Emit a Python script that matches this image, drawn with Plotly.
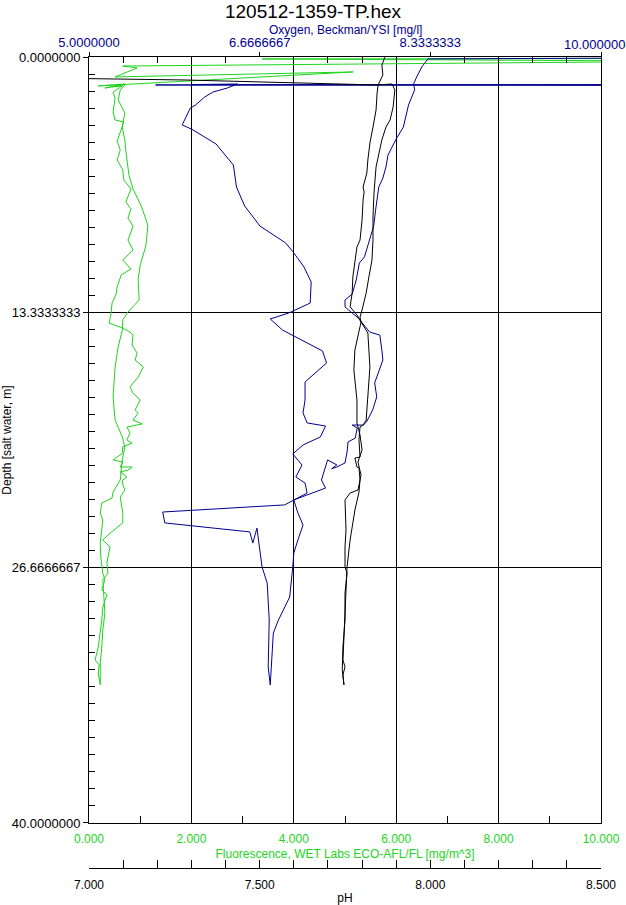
import plotly.graph_objects as go

# colours used by the CTD plot
GREEN = '#1ed41e'
NAVY = '#000090'
FONT = 'Liberation Sans, Arial, sans-serif'

# Fluorescence [mg/m^3] - surface soak, downcast, upcast
fl_surface_value = [11.93, 3.38, 11.93, 0.66, 0.94, 0.51, 5.16, 0.18, 0.70, 0.31, 0.66, 0.45]
fl_surface_depth = [0.08, 0.10, 0.22, 0.47, 0.57, 1.04, 0.78, 1.51, 1.41, 1.62, 1.46, 1.56]

fl_down_value = [0.65, 0.47, 0.51, 0.47, 0.51, 0.68, 0.55, 0.61, 0.55, 0.66, 0.68, 0.82, 0.72, 0.82,
                 0.76, 0.86, 0.76, 0.86, 0.66, 0.82, 0.63, 0.55, 0.53, 0.45, 0.43, 0.39, 0.65, 0.80,
                 0.86, 0.84, 0.94, 0.90, 1.06, 0.96, 0.80, 0.86, 1.00, 0.90, 0.96, 0.86, 1.04, 0.74,
                 0.80, 0.74, 0.84, 0.65, 0.66, 0.47, 0.66, 0.61, 0.84, 0.76, 0.61, 0.74, 0.66, 0.65,
                 0.70, 0.61, 0.66, 0.66, 0.37, 0.27, 0.41, 0.35, 0.37, 0.27, 0.31, 0.27, 0.25, 0.22,
                 0.22]
fl_down_depth = [1.51, 1.83, 2.14, 2.87, 3.29, 3.39, 4.39, 4.86, 5.38, 5.90, 6.42, 6.89, 7.57, 7.94,
                 8.41, 8.83, 9.56, 10.08, 10.60, 11.07, 11.38, 12.01, 12.38, 12.85, 13.42, 13.89, 14.15, 14.36,
                 14.52, 15.04, 15.46, 15.82, 16.19, 16.71, 17.23, 17.55, 17.91, 18.43, 18.59, 18.96, 19.16, 19.32,
                 19.63, 20.00, 20.16, 20.37, 20.68, 21.04, 21.15, 21.41, 21.41, 21.57, 21.67, 21.93, 22.09, 22.25,
                 22.61, 22.98, 23.81, 24.33, 24.96, 25.22, 25.59, 26.42, 26.95, 27.31, 29.03, 29.92, 30.81, 31.64,
                 32.79]

fl_up_value = [0.22, 0.18, 0.20, 0.12, 0.18, 0.22, 0.25, 0.27, 0.35, 0.25, 0.31, 0.27, 0.23, 0.22,
               0.25, 0.27, 0.22, 0.25, 0.45, 0.47, 0.61, 0.65, 0.70, 0.65, 0.51, 0.47, 0.51, 0.57,
               0.65, 0.66, 0.76, 0.98, 0.96, 1.00, 1.11, 1.15, 1.11, 1.02, 0.86, 0.78, 0.72, 0.70,
               0.65, 0.70, 0.57, 0.61, 0.70]
fl_up_depth = [32.79, 32.17, 31.75, 31.49, 30.81, 30.08, 29.40, 28.72, 28.09, 27.83, 27.31, 26.95, 26.11, 25.38,
               24.54, 24.18, 23.81, 23.29, 23.03, 22.72, 22.09, 21.04, 20.37, 19.84, 18.96, 17.75, 16.19, 15.14,
               14.26, 13.73, 13.32, 12.69, 11.64, 10.86, 9.87, 8.83, 8.46, 7.78, 6.89, 6.16, 4.91, 4.33,
               3.66, 2.92, 2.25, 1.72, 1.46]

# Oxygen, Beckman/YSI [mg/l]
ox_surface_value = [12.0, 5.65, 12.0, 6.0, 12.0]
ox_surface_depth = [1.43, 1.46, 1.48, 1.44, 1.45]

ox_down_value = [6.45, 6.35, 6.21, 6.13, 6.04, 5.99, 5.96, 5.91, 6.00, 6.24, 6.41, 6.44, 6.52, 6.67,
                 6.92, 7.00, 7.10, 7.17, 7.16, 6.95, 6.77, 6.89, 7.28, 7.32, 7.11, 7.11, 7.09, 7.13,
                 7.31, 7.26, 7.09, 6.99, 7.08, 7.02, 7.11, 7.13, 6.91, 5.72, 5.74, 6.57, 6.60, 6.64,
                 6.69, 6.74, 6.76, 6.75, 6.77]
ox_down_depth = [1.41, 1.62, 1.83, 2.09, 2.51, 2.66, 3.03, 3.55, 3.76, 4.54, 5.64, 6.79, 7.78, 8.83,
                 9.71, 10.23, 10.97, 11.75, 12.85, 13.37, 13.68, 14.26, 15.35, 15.98, 16.97, 17.91, 18.59, 19.11,
                 19.27, 19.84, 20.26, 20.73, 21.31, 21.93, 22.25, 22.77, 23.39, 23.76, 24.33, 24.80, 25.38, 24.60,
                 26.63, 27.47, 29.40, 31.85, 32.79]

ox_up_value = [6.80, 6.85, 6.91, 6.96, 6.99, 7.00, 7.04, 7.09, 7.04, 7.00, 7.31, 7.27, 7.33, 7.42,
               7.37, 7.42, 7.50, 7.52, 7.53, 7.60, 7.62, 7.57, 7.68, 7.71, 7.77, 7.81, 7.79, 7.82,
               7.87, 7.86, 7.84, 7.74, 7.70, 7.63, 7.57, 7.50, 7.50, 7.57, 7.61, 7.64, 7.69, 7.71,
               7.78, 7.80, 7.83, 7.87, 7.90, 7.92, 8.00, 8.07, 8.12, 8.18, 8.17, 8.20, 8.25, 8.31,
               10.5]
ox_up_depth = [30.08, 29.40, 28.72, 28.20, 26.63, 25.90, 25.22, 24.44, 23.81, 23.13, 22.51, 22.09, 21.04, 21.30,
               21.50, 21.41, 21.20, 20.63, 20.10, 19.90, 19.37, 19.22, 19.22, 19.06, 18.43, 17.75, 17.02, 16.61,
               15.82, 15.30, 14.52, 14.36, 14.10, 13.63, 13.37, 13.05, 12.69, 12.38, 11.64, 10.76, 10.44, 10.08,
               8.83, 7.94, 6.79, 6.32, 5.74, 5.12, 4.28, 3.66, 2.51, 1.72, 1.41, 1.04, 0.52, 0.10,
               0.05]

# pH
ph_down_value = [6.800, 7.281, 7.841, 7.888, 7.896, 7.891, 7.882, 7.870, 7.858, 7.847, 7.841, 7.835,
                 7.832, 7.832, 7.829, 7.820, 7.812, 7.800, 7.794, 7.797, 7.817, 7.823, 7.817, 7.812,
                 7.803, 7.794, 7.791, 7.794, 7.779, 7.785, 7.791, 7.794, 7.791, 7.779, 7.765, 7.759,
                 7.756, 7.753, 7.750, 7.747, 7.744, 7.750, 7.744, 7.747]
ph_down_depth = [1.08, 1.20, 1.46, 1.41, 1.72, 2.61, 3.29, 3.66, 4.33, 5.22, 5.74, 7.10,
                 8.36, 9.56, 10.60, 11.49, 12.32, 13.21, 13.58, 13.84, 14.41, 16.19, 17.91, 18.96,
                 19.22, 19.32, 20.00, 20.89, 20.94, 21.41, 21.46, 22.09, 22.72, 23.66, 25.22, 26.27,
                 26.63, 27.83, 29.40, 30.97, 31.49, 31.85, 32.27, 32.79]

ph_up_value = [7.742, 7.744, 7.750, 7.750, 7.756, 7.750, 7.750, 7.753, 7.750, 7.765, 7.788, 7.797,
               7.788, 7.800, 7.794, 7.785, 7.785, 7.776, 7.779, 7.797, 7.785, 7.765, 7.771, 7.773,
               7.779, 7.785, 7.794, 7.800, 7.803, 7.806, 7.803, 7.814, 7.817, 7.823, 7.832, 7.841,
               7.844, 7.847, 7.861, 7.858, 7.867]
ph_up_depth = [32.00, 30.81, 29.40, 27.99, 26.95, 26.63, 25.59, 24.70, 23.13, 22.77, 22.61, 21.83,
               21.15, 20.52, 19.74, 19.11, 17.91, 16.34, 15.30, 13.84, 13.47, 13.05, 12.32, 11.49,
               10.60, 9.92, 9.56, 8.51, 7.47, 7.05, 6.79, 6.06, 5.38, 4.49, 3.66, 2.77,
               1.88, 1.46, 0.94, 0.42, 0.00]

# axis ticks
depth_ticks = [0, 13.3333333, 26.6666667, 40]
depth_labels = ['0.0000000', '13.3333333', '26.6666667', '40.0000000']
oxygen_ticks = [5, 6.6666667, 8.3333333, 10]
oxygen_labels = ['5.0000000', '6.6666667', '8.3333333', '10.000000']
fluor_ticks = [0, 2, 4, 6, 8, 10]
fluor_labels = ['0.000', '2.000', '4.000', '6.000', '8.000', '10.000']
ph_ticks = [7.0, 7.5, 8.0, 8.5]
ph_labels = ['7.000', '7.500', '8.000', '8.500']

depth_minor = [k * 40 / 45 for k in range(46) if k % 15]
oxygen_minor = [5 + k / 3 for k in range(16) if k % 5]
fluor_minor = [1, 3, 5, 7, 9]
ph_minor = [7 + k / 10 for k in range(16) if k % 5]

fig = go.Figure()

fig.add_trace(go.Scatter(
    x=fl_surface_value + fl_down_value + fl_up_value,
    y=fl_surface_depth + fl_down_depth + fl_up_depth,
    mode='lines', line=dict(color=GREEN, width=1),
    xaxis='x', yaxis='y', name='Fluorescence'
))
fig.add_trace(go.Scatter(
    x=ox_surface_value + ox_down_value + ox_up_value,
    y=ox_surface_depth + ox_down_depth + ox_up_depth,
    mode='lines', line=dict(color=NAVY, width=1),
    xaxis='x2', yaxis='y', name='Oxygen'
))
fig.add_trace(go.Scatter(
    x=ph_down_value + ph_up_value,
    y=ph_down_depth + ph_up_depth,
    mode='lines', line=dict(color='black', width=1),
    xaxis='x3', yaxis='y', name='pH'
))

fig.update_layout(
    width=626,
    height=905,
    margin=dict(l=89, r=25, t=57, b=37, autoexpand=False),
    paper_bgcolor='white',
    plot_bgcolor='white',
    showlegend=False,
    font=dict(family=FONT, size=12, color='black'),
    title=dict(text='120512-1359-TP.hex', x=0.5, xanchor='center', y=0.987, yanchor='middle',
               font=dict(family=FONT, size=19, color='black')),
    xaxis=dict(
        range=[0, 10], domain=[0, 1], anchor='y', side='bottom', automargin=False,
        tickmode='array', tickvals=fluor_ticks, ticktext=fluor_labels,
        tickfont=dict(color=GREEN, size=12), ticks='inside', ticklen=7, tickcolor='black',
        ticklabelstandoff=5,
        minor=dict(tickvals=fluor_minor, ticks='inside', ticklen=7, tickcolor='black', showgrid=False),
        showgrid=True, gridcolor='black', gridwidth=1,
        showline=True, linecolor='black', linewidth=1, zeroline=False,
        title=dict(text='Fluorescence, WET Labs ECO-AFL/FL [mg/m^3]', font=dict(color=GREEN, size=12), standoff=4),
    ),
    xaxis2=dict(
        range=[5, 10], overlaying='x', anchor='y', side='top', automargin=False,
        tickmode='array', tickvals=oxygen_ticks, ticktext=oxygen_labels[:-1] + [''],
        tickfont=dict(color=NAVY, size=13), ticks='outside', ticklen=4, tickcolor='black',
        minor=dict(tickvals=oxygen_minor, ticks='inside', ticklen=6, tickcolor='black', showgrid=False),
        showgrid=False, showline=True, linecolor='black', linewidth=1, zeroline=False,
    ),
    xaxis3=dict(
        range=[7, 8.5], overlaying='x', anchor='free', position=0, side='bottom', automargin=False,
        tickmode='array', tickvals=ph_ticks, ticktext=ph_labels,
        tickfont=dict(color='black', size=12), ticks='inside', ticklen=8, tickcolor='black',
        ticklabelstandoff=6,
        minor=dict(tickvals=ph_minor, ticks='inside', ticklen=8, tickcolor='black', showgrid=False),
        showgrid=False, showline=True, linecolor='black', linewidth=1, zeroline=False,
        title=dict(text='pH', font=dict(color='black', size=12), standoff=2),
    ),
    yaxis=dict(
        range=[40, 0], domain=[0.0555, 1], anchor='x', automargin=False,
        tickmode='array', tickvals=depth_ticks, ticktext=depth_labels,
        tickfont=dict(color='black', size=13), ticks='outside', ticklen=5, tickcolor='black',
        minor=dict(tickvals=depth_minor, ticks='inside', ticklen=6, tickcolor='black', showgrid=False),
        showgrid=True, gridcolor='black', gridwidth=1,
        showline=True, mirror=True, linecolor='black', linewidth=1, zeroline=False,
        title=dict(text='Depth [salt water, m]', font=dict(color='black', size=12), standoff=2),
    ),
    annotations=[
        # oxygen axis title placed by hand, plotly puts it too high above the tick labels
        dict(text='Oxygen, Beckman/YSI [mg/l]', xref='paper', yref='paper', x=0.5, y=1.0333,
             xanchor='center', yanchor='middle', showarrow=False,
             font=dict(family=FONT, color=NAVY, size=12)),
        # last oxygen tick label would be hidden past the page edge, so pin it to the right
        dict(text=oxygen_labels[-1], xref='paper', yref='paper', x=1, y=1.0148, xshift=26,
             xanchor='right', yanchor='middle', showarrow=False,
             font=dict(family=FONT, color=NAVY, size=13)),
    ],
)

# the page's default body margin would push the 626x905 figure off the window
fig.write_html('out.html', config={'displayModeBar': False},
               post_script="document.body.style.margin='0';document.body.style.overflow='hidden';")
